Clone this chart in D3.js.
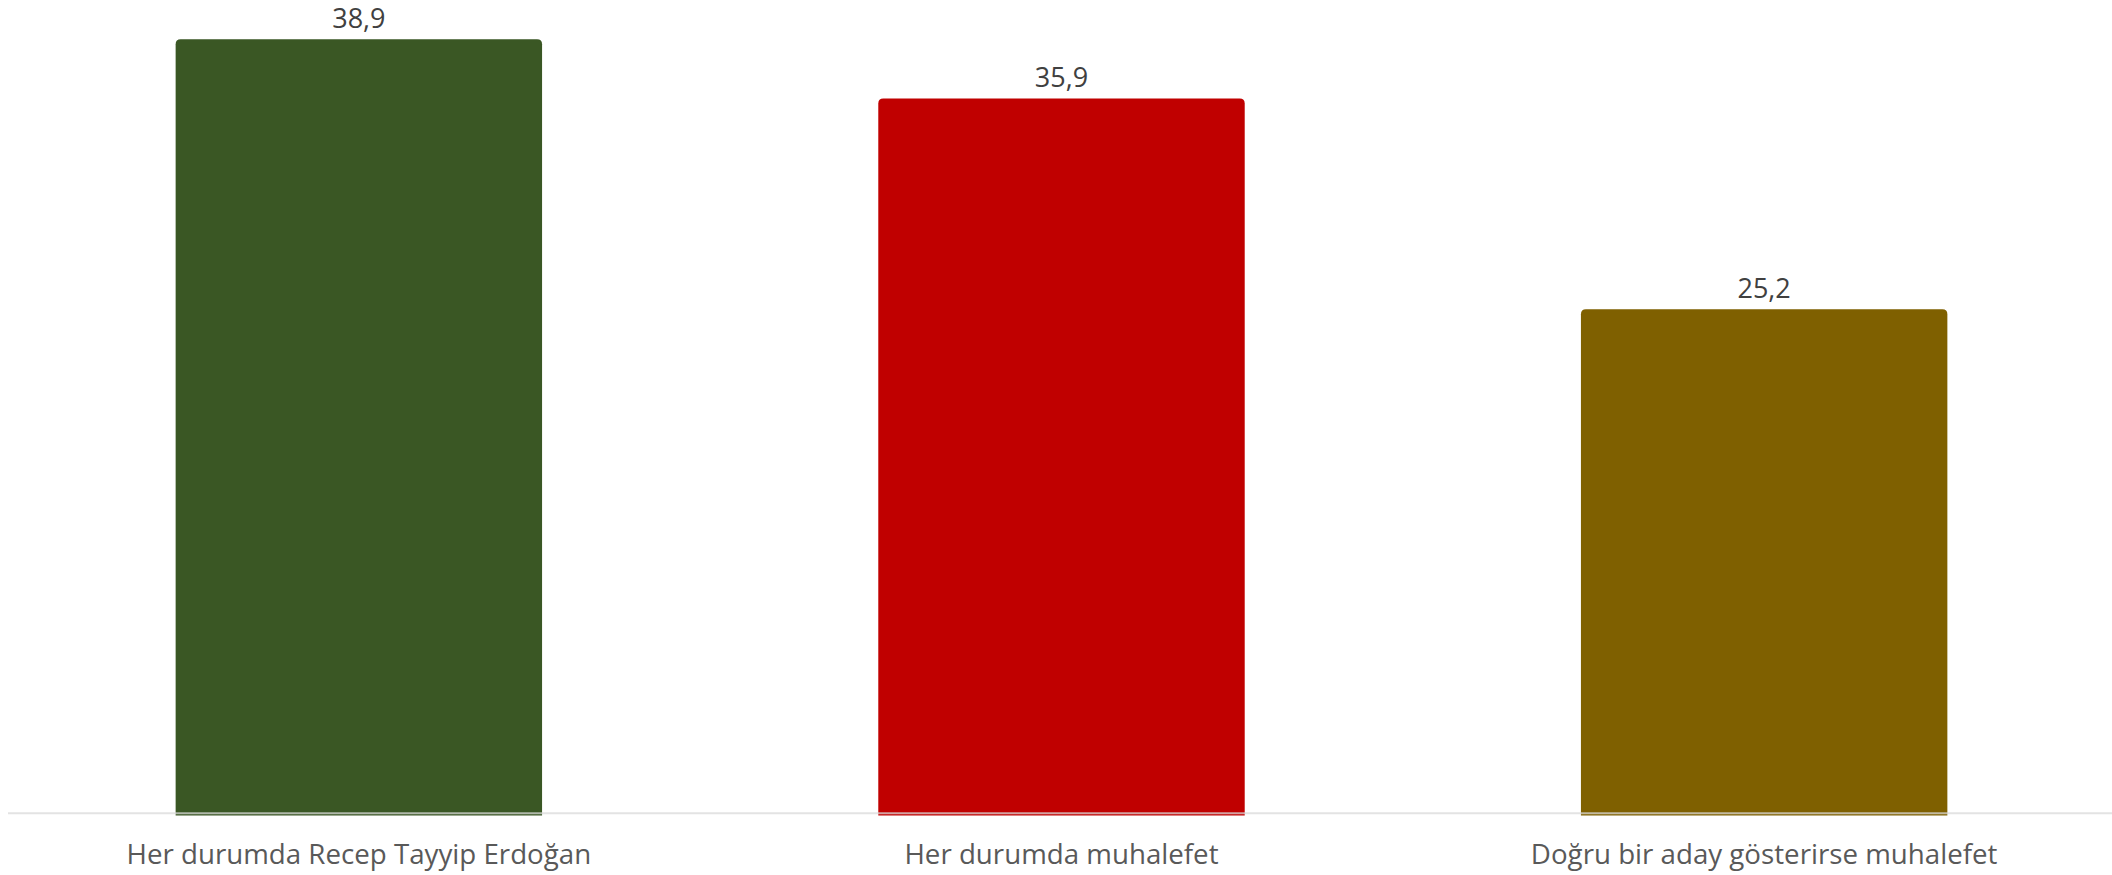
<!DOCTYPE html>
<html>
<head>
<meta charset="utf-8">
<script src="https://cdn.jsdelivr.net/npm/d3@7"></script>
<style>
html,body{margin:0;padding:0;background:#fff;}
svg{display:block;}
</style>
</head>
<body>
<svg id="chart" width="2112" height="875"></svg>
<script>
const categories = ["Her durumda Recep Tayyip Erdoğan", "Her durumda muhalefet", "Doğru bir aday gösterirse muhalefet"];
const values = [38.9, 35.9, 25.2];
const valueLabels = ["38,9", "35,9", "25,2"];
const colors = ["#3A5724", "#C00000", "#7F6000"];

const W = 2112, H = 875;
const svg = d3.select("#chart");

const x = d3.scaleBand()
  .domain(categories)
  .range([7, 2116])
  .paddingInner(0.4785)
  .paddingOuter(0.24);

const y = d3.scaleLinear()
  .domain([-0.5, 40])
  .range([815.5, 17.65]);

const base = y(y.domain()[0]);
const r = 5;

function barPath(x0, w, yTop, yBot) {
  return `M${x0},${yBot}V${yTop + r}Q${x0},${yTop} ${x0 + r},${yTop}H${x0 + w - r}Q${x0 + w},${yTop} ${x0 + w},${yTop + r}V${yBot}Z`;
}

svg.selectAll("path.bar")
  .data(values)
  .join("path")
  .attr("class", "bar")
  .attr("d", (d, i) => barPath(x(categories[i]), x.bandwidth(), y(d), base))
  .attr("fill", (d, i) => colors[i]);

// axis line
svg.append("line")
  .attr("x1", 8).attr("x2", W)
  .attr("y1", 813.3).attr("y2", 813.3)
  .attr("stroke", "#d9d9d9")
  .attr("stroke-opacity", 0.75)
  .attr("stroke-width", 2);

svg.selectAll("text.val")
  .data(values)
  .join("text")
  .attr("class", "val")
  .attr("x", (d, i) => x(categories[i]) + x.bandwidth() / 2)
  .attr("y", d => y(d) - 11.5)
  .attr("text-anchor", "middle")
  .attr("font-family", "'Open Sans', sans-serif")
  .attr("font-size", 27)
  .attr("fill", "#404040")
  .text((d, i) => valueLabels[i]);

svg.selectAll("text.cat")
  .data(categories)
  .join("text")
  .attr("class", "cat")
  .attr("x", d => x(d) + x.bandwidth() / 2)
  .attr("y", 864)
  .attr("text-anchor", "middle")
  .attr("font-family", "'Open Sans', sans-serif")
  .attr("font-size", 27.7)
  .attr("fill", "#595959")
  .text(d => d);
</script>
</body>
</html>
